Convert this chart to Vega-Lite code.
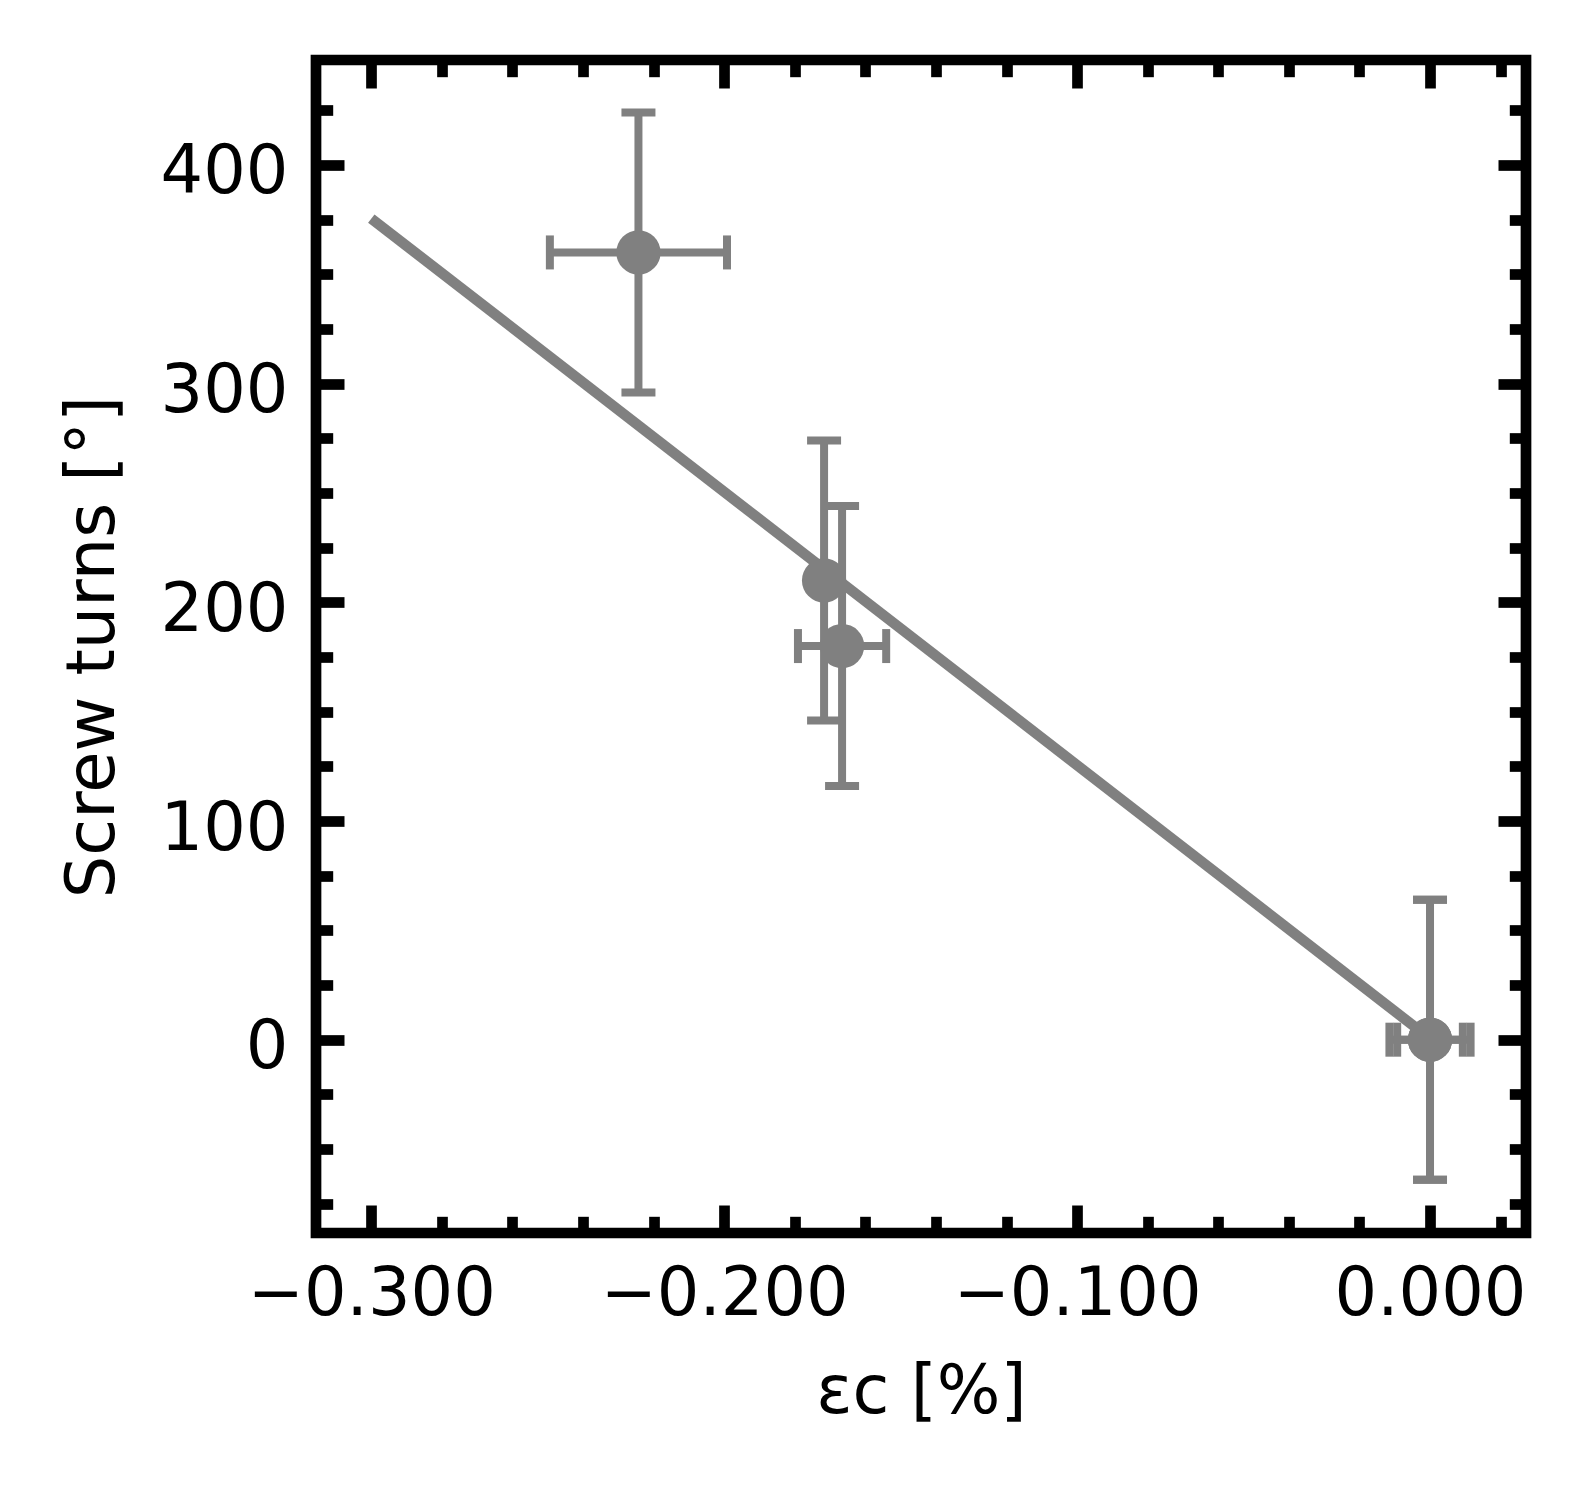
{
  "$schema": "https://vega.github.io/schema/vega-lite/v6.json",
  "description": "Screw turns against strain, with error bars and a straight fit",
  "autosize": {"type": "none"},
  "width": 1210,
  "height": 1173,
  "padding": {"left": 316, "top": 60, "right": 59, "bottom": 256},
  "background": "white",
  "config": {
    "font": "DejaVu Sans",
    "view": {"stroke": "black", "strokeWidth": 10.7},
    "axis": {
      "labelFont": "DejaVu Sans",
      "titleFont": "DejaVu Sans",
      "labelFontSize": 67,
      "titleFontSize": 67,
      "titleFontWeight": "normal",
      "labelColor": "black",
      "titleColor": "black",
      "tickColor": "black",
      "tickWidth": 10.7,
      "domain": false,
      "grid": false,
      "labelFlush": false,
      "labelOverlap": false,
      "labelLimit": 0
    }
  },
  "datasets": {
    "pts": [
      {"strain": -0.2243, "strain_lo": -0.2494, "strain_hi": -0.1992, "turns": 360, "turns_lo": 296, "turns_hi": 424},
      {"strain": -0.1717, "strain_lo": -0.1717, "strain_hi": -0.1717, "turns": 210, "turns_lo": 146, "turns_hi": 274},
      {"strain": -0.1666, "strain_lo": -0.1791, "strain_hi": -0.1541, "turns": 180, "turns_lo": 116, "turns_hi": 244},
      {"strain": 0, "strain_lo": -0.0115, "strain_hi": 0.0115, "turns": 0, "turns_lo": -64, "turns_hi": 64},
      {"strain": 0, "strain_lo": -0.0093, "strain_hi": 0.0093, "turns": 0, "turns_lo": -64, "turns_hi": 64}
    ],
    "fit": [
      {"strain": -0.3, "turns": 375.5},
      {"strain": 0, "turns": 0.5}
    ]
  },
  "resolve": {"axis": {"x": "independent", "y": "independent"}},
  "layer": [
    {
      "data": {"name": "fit"},
      "mark": {"type": "line", "color": "#808080", "strokeWidth": 10.5, "strokeCap": "butt"},
      "encoding": {
        "x": {"field": "strain", "type": "quantitative",
          "scale": {"domain": [-0.31567, 0.0272], "nice": false, "zero": false},
          "axis": {"orient": "bottom", "values": [-0.3, -0.2, -0.1, 0], "format": ".3f",
            "ticks": false, "labelPadding": 28, "title": "εc [%]", "titlePadding": 32}},
        "y": {"field": "turns", "type": "quantitative",
          "scale": {"domain": [-88.4, 448], "nice": false, "zero": false},
          "axis": {"orient": "left", "values": [0, 100, 200, 300, 400],
            "ticks": false, "labelPadding": 28, "labelOffset": 8,
            "title": "Screw turns [°]", "titlePadding": 33}}
      }
    },
    {
      "data": {"name": "pts"},
      "mark": {"type": "rule", "color": "#808080", "strokeWidth": 8, "strokeCap": "butt"},
      "encoding": {
        "x": {"field": "strain", "type": "quantitative",
          "scale": {"domain": [-0.31567, 0.0272], "nice": false, "zero": false},
          "axis": {"orient": "bottom", "values": [-0.3, -0.2, -0.1, 0], "labels": false, "tickSize": -28, "title": null}},
        "y": {"field": "turns_lo", "type": "quantitative",
          "scale": {"domain": [-88.4, 448], "nice": false, "zero": false},
          "axis": {"orient": "left", "values": [0, 100, 200, 300, 400], "labels": false, "tickSize": -28, "title": null}},
        "y2": {"field": "turns_hi"}
      }
    },
    {
      "data": {"name": "pts"},
      "mark": {"type": "rule", "color": "#808080", "strokeWidth": 8, "strokeCap": "butt"},
      "encoding": {
        "x": {"field": "strain_lo", "type": "quantitative",
          "scale": {"domain": [-0.31567, 0.0272], "nice": false, "zero": false},
          "axis": {"orient": "top", "values": [-0.3, -0.2, -0.1, 0], "labels": false, "tickSize": -28, "title": null}},
        "x2": {"field": "strain_hi"},
        "y": {"field": "turns", "type": "quantitative",
          "scale": {"domain": [-88.4, 448], "nice": false, "zero": false},
          "axis": {"orient": "right", "values": [0, 100, 200, 300, 400], "labels": false, "tickSize": -28, "title": null}}
      }
    },
    {
      "data": {"name": "pts"},
      "mark": {"type": "tick", "orient": "horizontal", "color": "#808080", "size": 34, "thickness": 8, "opacity": 1},
      "encoding": {
        "x": {"field": "strain", "type": "quantitative",
          "scale": {"domain": [-0.31567, 0.0272], "nice": false, "zero": false},
          "axis": {"orient": "bottom", "labels": false, "tickSize": -16.7, "title": null,
            "values": [-0.28, -0.26, -0.24, -0.22, -0.18, -0.16, -0.14, -0.12, -0.08, -0.06, -0.04, -0.02, 0.02]}},
        "y": {"field": "turns_lo", "type": "quantitative",
          "scale": {"domain": [-88.4, 448], "nice": false, "zero": false},
          "axis": {"orient": "left", "labels": false, "tickSize": -16.7, "title": null,
            "values": [-75, -50, -25, 25, 50, 75, 125, 150, 175, 225, 250, 275, 325, 350, 375, 425]}}
      }
    },
    {
      "data": {"name": "pts"},
      "mark": {"type": "tick", "orient": "horizontal", "color": "#808080", "size": 34, "thickness": 8, "opacity": 1},
      "encoding": {
        "x": {"field": "strain", "type": "quantitative",
          "scale": {"domain": [-0.31567, 0.0272], "nice": false, "zero": false},
          "axis": {"orient": "top", "labels": false, "tickSize": -16.7, "title": null,
            "values": [-0.28, -0.26, -0.24, -0.22, -0.18, -0.16, -0.14, -0.12, -0.08, -0.06, -0.04, -0.02, 0.02]}},
        "y": {"field": "turns_hi", "type": "quantitative",
          "scale": {"domain": [-88.4, 448], "nice": false, "zero": false},
          "axis": {"orient": "right", "labels": false, "tickSize": -16.7, "title": null,
            "values": [-75, -50, -25, 25, 50, 75, 125, 150, 175, 225, 250, 275, 325, 350, 375, 425]}}
      }
    },
    {
      "data": {"name": "pts"},
      "mark": {"type": "tick", "orient": "vertical", "color": "#808080", "size": 34, "thickness": 8, "opacity": 1},
      "encoding": {
        "x": {"field": "strain_lo", "type": "quantitative",
          "scale": {"domain": [-0.31567, 0.0272], "nice": false, "zero": false}, "axis": null},
        "y": {"field": "turns", "type": "quantitative",
          "scale": {"domain": [-88.4, 448], "nice": false, "zero": false}, "axis": null}
      }
    },
    {
      "data": {"name": "pts"},
      "mark": {"type": "tick", "orient": "vertical", "color": "#808080", "size": 34, "thickness": 8, "opacity": 1},
      "encoding": {
        "x": {"field": "strain_hi", "type": "quantitative",
          "scale": {"domain": [-0.31567, 0.0272], "nice": false, "zero": false}, "axis": null},
        "y": {"field": "turns", "type": "quantitative",
          "scale": {"domain": [-88.4, 448], "nice": false, "zero": false}, "axis": null}
      }
    },
    {
      "data": {"name": "pts"},
      "mark": {"type": "point", "shape": "circle", "filled": true, "color": "#808080", "size": 1963, "opacity": 1},
      "encoding": {
        "x": {"field": "strain", "type": "quantitative",
          "scale": {"domain": [-0.31567, 0.0272], "nice": false, "zero": false}, "axis": null},
        "y": {"field": "turns", "type": "quantitative",
          "scale": {"domain": [-88.4, 448], "nice": false, "zero": false}, "axis": null}
      }
    }
  ]
}
